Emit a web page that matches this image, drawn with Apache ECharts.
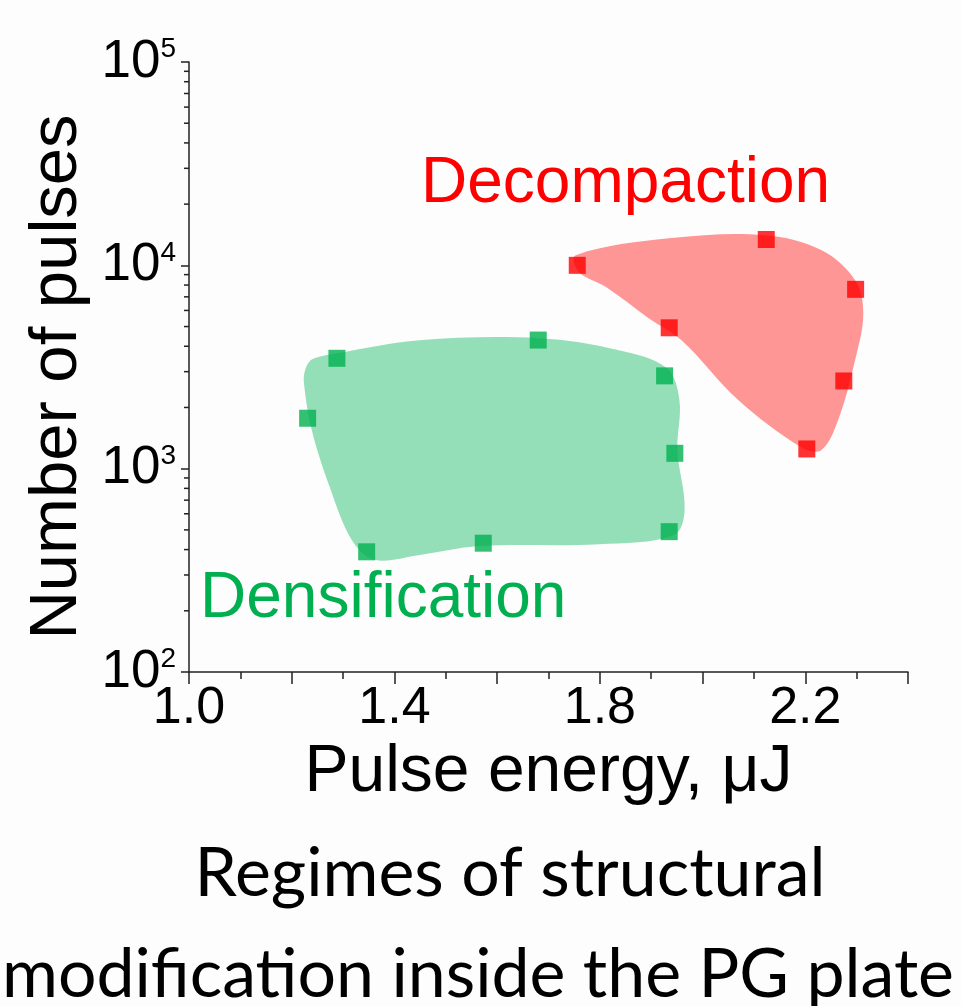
<!DOCTYPE html>
<html>
<head>
<meta charset="utf-8">
<script src="https://cdn.jsdelivr.net/npm/echarts@6/dist/echarts.min.js"></script>
<style>
  html, body { margin: 0; padding: 0; background: #fdfdfe; }
  #chart { width: 961px; height: 1006px; }
</style>
</head>
<body>
<div id="chart"></div>
<script>
// measured points: pulse energy (uJ) and number of pulses
const densEnergy = [1.288, 1.231, 1.680, 1.926, 1.946, 1.935, 1.573, 1.346];
const densPulses = [3490, 1770, 4290, 2860, 1190, 490, 430, 390];
const decompEnergy = [1.756, 2.124, 2.298, 1.935, 2.275, 2.203];
const decompPulses = [10000, 13400, 7620, 4930, 2700, 1250];

// outlines of the two shaded regimes
const densAreaEnergy = [1.224, 1.239, 1.274, 1.317, 1.361, 1.449, 1.565, 1.798, 1.944, 1.965, 1.951, 1.955, 1.930, 1.837, 1.682, 1.449, 1.290, 1.240, 1.226];
const densAreaPulses = [2600, 1550, 813, 446, 356, 376, 416, 425, 472, 625, 1233, 2173, 3126, 3828, 4385, 4285, 3700, 3450, 3050];
const decompAreaEnergy = [1.753, 1.940, 2.122, 2.231, 2.297, 2.313, 2.297, 2.264, 2.231, 2.192, 2.070, 1.959, 1.895, 1.812, 1.759];
const decompAreaPulses = [11220, 13610, 14060, 11890, 8450, 5820, 3420, 1734, 1233, 1276, 2173, 4285, 5500, 7820, 9270];

const xTickLabels = ['1.0', '1.4', '1.8', '2.2'];
const yTickPowers = [2, 3, 4, 5];
const yMinorSteps = [2, 3, 4, 5, 6, 7, 8, 9];

const font = 'Liberation Sans';
const capFont = 'Lato';
const axisColor = '#222';

let chart = echarts.init(document.getElementById('chart'));

function regionSeries(xs, ys, color) {
  return {
    type: 'custom',
    silent: true,
    z: 1,
    data: xs.map((x, i) => [x, ys[i]]),
    renderItem: (params, api) => {
      if (params.dataIndex !== 0) return null;
      const pts = xs.map((x, i) => api.coord([x, ys[i]]));
      return {
        type: 'polygon',
        shape: { points: pts, smooth: 0.35 },
        style: { fill: color }
      };
    }
  };
}

chart.setOption({
  animation: false,
  backgroundColor: '#fdfdfe',
  grid: { left: 189, right: 53, top: 62, bottom: 334 },
  xAxis: {
    type: 'value',
    min: 1.0,
    max: 2.4,
    interval: 0.2,
    name: 'Pulse energy, μJ',
    nameLocation: 'middle',
    nameGap: 68,
    nameTextStyle: { fontFamily: font, fontSize: 66, color: '#000' },
    axisLine: { lineStyle: { color: axisColor, width: 1.5 } },
    axisTick: { length: 12, lineStyle: { color: axisColor, width: 1.5 } },
    minorTick: { show: true, splitNumber: 2, length: 7, lineStyle: { color: axisColor, width: 1.5 } },
    splitLine: { show: false },
    axisLabel: {
      margin: 11,
      fontFamily: font,
      fontSize: 52,
      color: '#000',
      formatter: v => xTickLabels.includes(v.toFixed(1)) ? v.toFixed(1) : ''
    }
  },
  yAxis: {
    type: 'log',
    logBase: 10,
    min: 100,
    max: 100000,
    name: 'Number of pulses',
    nameLocation: 'middle',
    nameRotate: 90,
    nameGap: 88,
    nameTextStyle: { fontFamily: font, fontSize: 67, color: '#000', padding: [0, 20, 0, 0] },
    axisLine: { lineStyle: { color: axisColor, width: 1.5 } },
    axisTick: { length: 8, lineStyle: { color: axisColor, width: 1.5 } },
    splitLine: { show: false },
    axisLabel: {
      margin: 13,
      color: '#000',
      formatter: v => {
        const p = Math.round(Math.log10(v));
        return yTickPowers.includes(p) ? '{b|10}{s|' + p + '}' : '';
      },
      rich: {
        b: { fontFamily: font, fontSize: 53, lineHeight: 53, color: '#000' },
        s: { fontFamily: font, fontSize: 28, lineHeight: 28, verticalAlign: 'top', color: '#000' }
      }
    }
  },
  graphic: [
    { type: 'text', x: 421, y: 184, style: { text: 'Decompaction', fill: '#ff0000', font: '64px "' + font + '"', textAlign: 'left', textVerticalAlign: 'middle' } },
    { type: 'text', x: 200, y: 599, style: { text: 'Densification', fill: '#00b050', font: '64px "' + font + '"', textAlign: 'left', textVerticalAlign: 'middle' } },
    { type: 'text', x: 510, y: 874, style: { text: 'Regimes of structural', fill: '#000', font: '68px "' + capFont + '"', textAlign: 'center', textVerticalAlign: 'middle' } },
    { type: 'text', x: 478, y: 975, style: { text: 'modification inside the PG plate', fill: '#000', font: '68px "' + capFont + '"', textAlign: 'center', textVerticalAlign: 'middle' } }
  ],
  series: [
    regionSeries(densAreaEnergy, densAreaPulses, '#95dfb8'),
    regionSeries(decompAreaEnergy, decompAreaPulses, '#fe9696'),
    {
      // log-spaced minor ticks on the pulse axis
      type: 'custom',
      silent: true,
      clip: false,
      data: [[1.0, 100]],
      renderItem: (params, api) => {
        const children = [];
        yTickPowers.slice(0, -1).forEach(p => {
          yMinorSteps.forEach(k => {
            const pt = api.coord([1.0, k * Math.pow(10, p)]);
            children.push({
              type: 'line',
              shape: { x1: pt[0] - 5, y1: pt[1], x2: pt[0], y2: pt[1] },
              style: { stroke: axisColor, lineWidth: 1.5 }
            });
          });
        });
        return { type: 'group', children: children };
      }
    },
    {
      name: 'Densification',
      type: 'scatter',
      symbol: 'rect',
      symbolSize: 17,
      z: 3,
      itemStyle: { color: '#00b050' },
      data: densEnergy.map((x, i) => [x, densPulses[i]])
    },
    {
      name: 'Decompaction',
      type: 'scatter',
      symbol: 'rect',
      symbolSize: 17,
      z: 3,
      itemStyle: { color: '#ff0000' },
      data: decompEnergy.map((x, i) => [x, decompPulses[i]])
    }
  ]
});
</script>
</body>
</html>
